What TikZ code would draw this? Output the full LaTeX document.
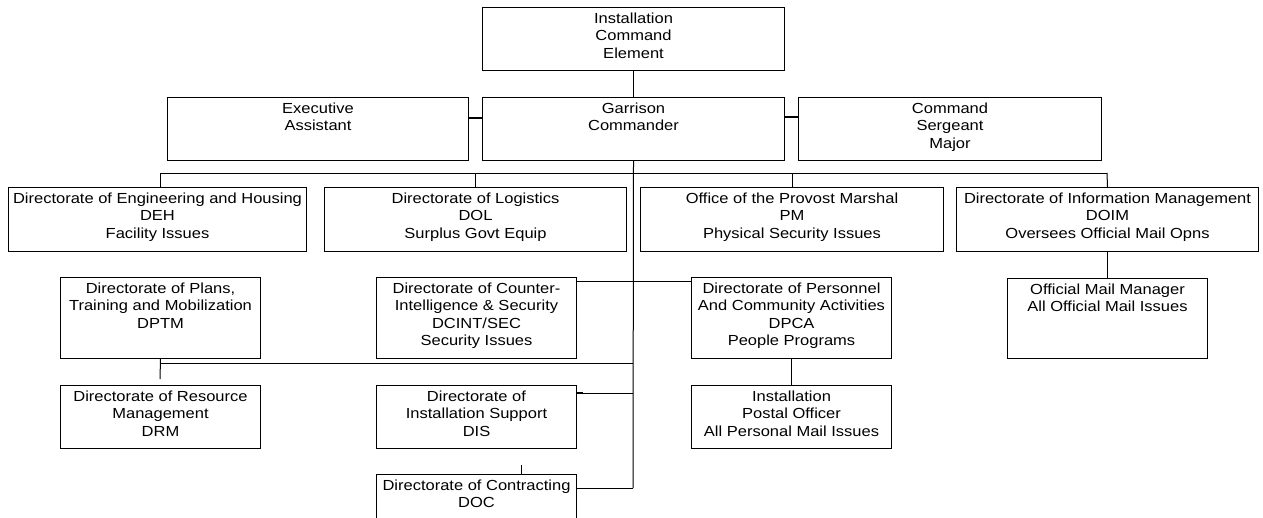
\documentclass[tikz,border=0pt]{standalone}
\usepackage{fontspec}
\setmainfont[FakeStretch=1.13]{Liberation Sans}
\usetikzlibrary{calc}
\newcommand\orgbox[6]{%
  \node[box, minimum width={(#4-#2)*1pt}, minimum height={(#5-#3)*1pt}] (#1) at (#2,#3) {};
  \node[txt] (#1-t) at ($(#1.north)+(0,5.5)$) {#6};}
\begin{document}
\begin{tikzpicture}[x=1pt,y=-1pt,
  box/.style={draw=black, line width=1pt, inner sep=0pt, anchor=north west},
  txt/.style={anchor=north, inner sep=0pt, align=center, font=\fontsize{14.6}{17.4}\selectfont},
  conn/.style={draw=black, line width=1pt},
  side/.style={draw=black, line width=1.8pt}]
\useasboundingbox (0,0) rectangle (1263,517);
\clip (0,0) rectangle (1263,517);

\orgbox{ice}{482}{7}{784}{70}{Installation\\Command\\Element}
\orgbox{ea}{167}{97}{468}{160}{Executive\\Assistant}
\orgbox{gc}{482}{97}{784}{160}{Garrison\\Commander}
\orgbox{csm}{798}{97}{1101}{160}{Command\\Sergeant\\Major}
\orgbox{deh}{8}{187}{306}{251}{Directorate of Engineering and Housing\\DEH\\Facility Issues}
\orgbox{dol}{324}{187}{626}{251}{Directorate of Logistics\\DOL\\Surplus Govt Equip}
\orgbox{pm}{640}{187}{943}{251}{Office of the Provost Marshal\\PM\\Physical Security Issues}
\orgbox{doim}{956}{187}{1258}{251}{Directorate of Information Management\\DOIM\\Oversees Official Mail Opns}
\orgbox{dptm}{60}{277}{260}{358}{Directorate of Plans,\\Training and Mobilization\\DPTM}
\orgbox{dcint}{376}{277}{576}{358}{Directorate of Counter-\\Intelligence \& Security\\DCINT/SEC\\Security Issues}
\orgbox{dpca}{691}{277}{891}{358}{Directorate of Personnel\\And Community Activities\\DPCA\\People Programs}
\orgbox{omm}{1007}{278}{1207}{358}{Official Mail Manager\\All Official Mail Issues}
\orgbox{drm}{60}{385}{260}{448}{Directorate of Resource\\Management\\DRM}
\orgbox{dis}{376}{385}{576}{448}{Directorate of\\Installation Support\\DIS}
\orgbox{ipo}{691}{385}{891}{448}{Installation\\Postal Officer\\All Personal Mail Issues}
\orgbox{doc}{376}{474}{576}{545}{Directorate of Contracting\\DOC}

% coordinates
\coordinate (busL) at (160,173);
\coordinate (busR) at (1107,173);
\coordinate (trunkEnd) at (633,488);
\coordinate (midL) at (160,363);
\coordinate (dptmEnd) at (160,379);
\coordinate (cintR) at ($(dcint.north east)+(0,4)$);
\coordinate (disR) at ($(dis.north east)+(0,8)$);
\coordinate (docR) at ($(doc.north east)+(0,14)$);
\coordinate (docTick) at ($(doc.north west)+(145,0)$);

% connectors
\draw[conn] (ice.south) -- (gc.north);
\draw[side] ($(ea.north east)+(0,21)$) -- ($(gc.north west)+(0,21)$);
\draw[side] ($(gc.north east)+(0,20)$) -- ($(csm.north west)+(0,20)$);
\draw[conn] (busL) -- (busR);
\draw[conn] (busL) -- (busL |- deh.north);
\draw[conn] (dol.north |- busL) -- (dol.north);
\draw[conn] (pm.north |- busL) -- (pm.north);
\draw[conn] (busR) -- (doim.north);
\draw[conn] (gc.south) -- (trunkEnd);
\draw[conn] (doim.south) -- (omm.north);
\draw[conn] (cintR) -- (cintR -| dpca.west);
\draw[conn] (dptm.south) -- (dptmEnd);
\draw[conn] (midL) -- (midL -| trunkEnd);
\draw[conn] (disR) -- (disR -| trunkEnd);
\draw[line width=1.6pt] ($(disR)+(0,-0.5)$) -- ++(6,0);
\draw[conn] (docR) -- (trunkEnd);
\draw[conn] (dpca.south) -- (ipo.north);
\draw[conn] (docTick) -- ++(0,-9);
\end{tikzpicture}
\end{document}
